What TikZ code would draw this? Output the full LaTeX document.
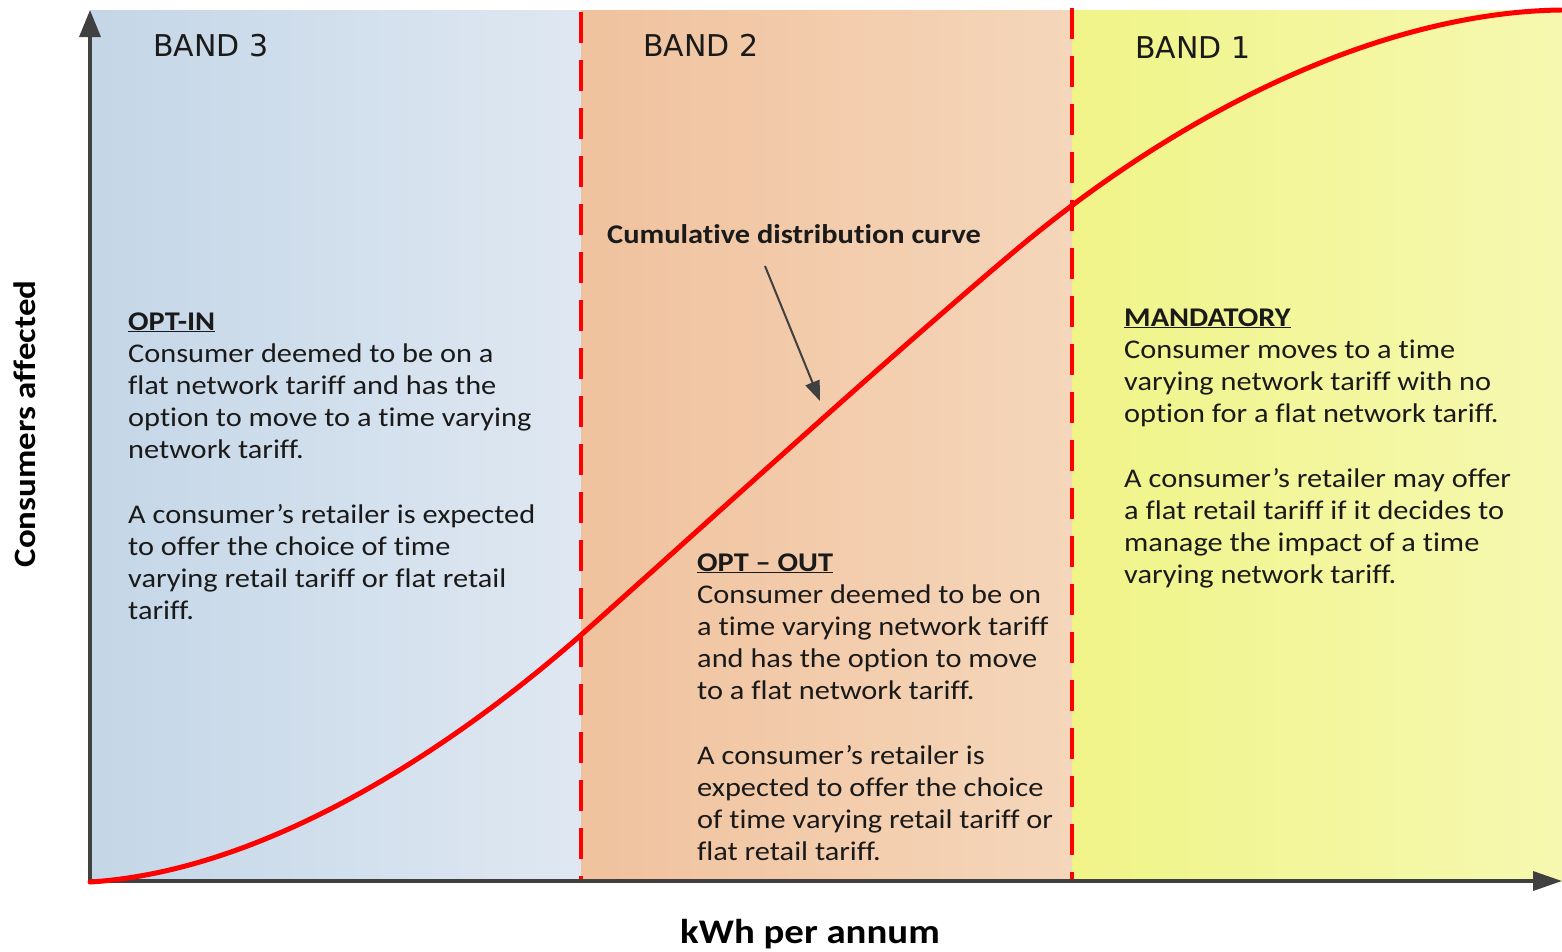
\documentclass[tikz,border=0pt]{standalone}
\usepackage{fontspec}
\setmainfont{Carlito}[FakeStretch=1.125,Ligatures=NoCommon]
\newfontfamily\bandfont{DejaVu Sans}
\usetikzlibrary{arrows.meta}
\definecolor{axisgray}{HTML}{404040}
\definecolor{bthreeL}{HTML}{C4D6E7}
\definecolor{bthreeR}{HTML}{DFE8F2}
\definecolor{btwoL}{HTML}{F0C29E}
\definecolor{btwoR}{HTML}{F5D6BA}
\definecolor{boneL}{HTML}{F0F488}
\definecolor{boneR}{HTML}{F6F8B0}
\definecolor{curvered}{HTML}{FF0000}
\definecolor{txtcol}{HTML}{1A1A1A}
\begin{document}
\begin{tikzpicture}[x=1pt,y=-1pt,
  axisline/.style={draw=axisgray,line width=3.5pt},
  bandsep/.style={draw=curvered,line width=3.5pt,dash pattern=on 31pt off 17pt},
  cdf/.style={draw=curvered,line width=5pt,line cap=round},
  pointer/.style={draw=axisgray,line width=2pt,-{Triangle[length=20pt,width=15pt]}},
  bandlabel/.style={font=\bandfont\fontsize{30}{36}\selectfont,text=txtcol,inner sep=0pt,anchor=base west},
  blocktext/.style={font=\fontsize{27}{32.2}\selectfont,text=txtcol,inner sep=0pt,anchor=base west},
  axislabel/.style={text=black,inner sep=0pt,anchor=base}
]
\useasboundingbox (0,0) rectangle (1562,951);
\fill[white] (0,0) rectangle (1562,951);

% bands
\shade[left color=bthreeL,right color=bthreeR] (90,10) rectangle (581,881);
\shade[left color=btwoL,right color=btwoR] (581,10) rectangle (1072,881);
\shade[left color=boneL,right color=boneR] (1072,10) rectangle (1562,881);

% coordinates
\coordinate (o) at (90,881);
\coordinate (ytop) at (90,10);
\coordinate (xend) at (1562,881);
\coordinate (s1top) at (581,12);
\coordinate (s1bot) at (581,881);
\coordinate (s2top) at (1072,8);
\coordinate (s2bot) at (1072,881);

% band separators
\draw[bandsep] (s1top) -- (s1bot);
\draw[bandsep] (s2top) -- (s2bot);

% axes
\draw[axisline,-{Triangle[length=27pt,width=21pt]}] (o) -- (ytop);
\draw[axisline,-{Triangle[length=29pt,width=19pt]}] (o) -- (xend);

% curve
\draw[cdf] (90,882) .. controls (280,870) and (475,730) .. (590,627)
  .. controls (720,511) and (880,365) .. (1010,255)
  .. controls (1200,94) and (1400,12) .. (1561,10);

% band labels
\node[bandlabel] (b3) at (153,56) {BAND 3};
\node[bandlabel] (b2) at (643,56) {BAND 2};
\node[bandlabel] (b1) at (1135,58) {BAND 1};

% curve label and pointer
\node[blocktext,font=\bfseries\fontsize{27}{32.2}\selectfont] (cdflabel) at (607,243) {Cumulative distribution curve};
\coordinate (ptrS) at (765,266);
\coordinate (ptrE) at (820,401);
\draw[pointer] (ptrS) -- (ptrE);

% text blocks
\node[blocktext] (optin) at (128,330) {\parbox[t]{440pt}{\raggedright
\underline{\textbf{OPT-IN}}\\
Consumer deemed to be on a\\
flat network tariff and has the\\
option to move to a time varying\\
network tariff.\\
\mbox{}\\
A consumer’s retailer is expected\\
to offer the choice of time\\
varying retail tariff or flat retail\\
tariff.}};

\node[blocktext] (optout) at (697,571) {\parbox[t]{380pt}{\raggedright
\underline{\textbf{OPT – OUT}}\\
Consumer deemed to be on\\
a time varying network tariff\\
and has the option to move\\
to a flat network tariff.\\
\mbox{}\\
A consumer’s retailer is\\
expected to offer the choice\\
of time varying retail tariff or\\
flat retail tariff.}};

\node[blocktext] (mand) at (1124,326) {\parbox[t]{430pt}{\raggedright
\underline{\textbf{MANDATORY}}\\
Consumer moves to a time\\
varying network tariff with no\\
option for a flat network tariff.\\
\mbox{}\\
A consumer’s retailer may offer\\
a flat retail tariff if it decides to\\
manage the impact of a time\\
varying network tariff.}};

% axis labels
\node[axislabel,rotate=90,font=\bfseries\fontsize{31}{36}\selectfont] (ylab) at (35,424) {Consumers affected};
\node[axislabel,font=\bfseries\fontsize{34.5}{40}\selectfont] (xlab) at (810,943) {kWh per annum};
\end{tikzpicture}
\end{document}
